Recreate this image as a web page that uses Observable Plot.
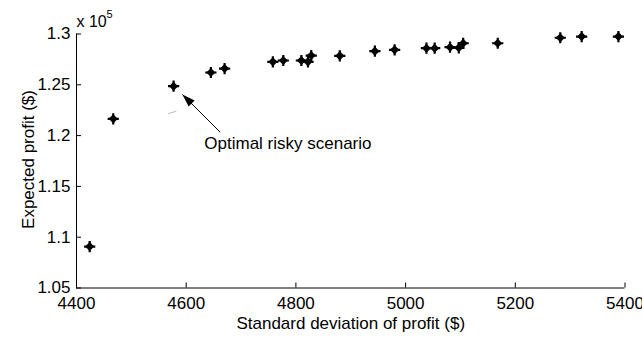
<!DOCTYPE html>
<html><head><meta charset="utf-8">
<script src="https://cdn.jsdelivr.net/npm/d3@7"></script>
<script src="https://cdn.jsdelivr.net/npm/@observablehq/plot@0.6"></script>
<style>body{margin:0;background:#fff}</style>
</head><body><div id="chart"></div>
<script>
// Scenario data
const stdDev = [4424, 4467, 4577, 4645, 4670, 4758, 4777, 4810, 4822, 4828, 4880, 4944, 4980, 5038, 5053, 5081, 5097, 5105, 5168, 5282, 5321, 5388];
const profit = [109080, 121650, 124860, 126210, 126600, 127260, 127390, 127390, 127260, 127880, 127850, 128310, 128440, 128600, 128600, 128700, 128640, 129090, 129090, 129630, 129750, 129750];

const xTicks = [4400, 4600, 4800, 5000, 5200, 5400];
const yTicks = [105000, 110000, 115000, 120000, 125000, 130000];
const yTickLabels = ["1.05", "1.1", "1.15", "1.2", "1.25", "1.3"];

const xLabel = "Standard deviation of profit ($)";
const yLabel = "Expected profit ($)";
const exponentBase = "x 10";
const exponent = "5";

// annotation
const noteText = "Optimal risky scenario";
const noteTextAt = [4633, 119190];
const arrowFrom = [4662, 120330];
const arrowTo = [4593, 124050];
const stray = [[4567, 122150], [4582, 122400]];

const points = stdDev.map((x, i) => ({x, y: profit[i]}));

const W = 642, H = 337;
const mT = 33.5, mB = 49.5, mL = 76, mR = 17.5;
const frameW = W - mL - mR, frameH = H - mT - mB;
const font = "'Liberation Sans', Arial, sans-serif";
const fs = 17;

const arrowHead = {
  draw(ctx, size) {
    ctx.moveTo(0, 0);
    ctx.lineTo(-4.2, 13);
    ctx.lineTo(4.2, 13);
    ctx.closePath();
  }
};

const chart = Plot.plot({
  width: W, height: H,
  marginTop: mT, marginBottom: mB, marginLeft: mL, marginRight: mR,
  style: {fontFamily: font, fontSize: fs + "px", color: "black", background: "white", overflow: "visible"},
  x: {domain: [4400, 5400]},
  y: {domain: [105000, 130000]},
  marks: [
    Plot.ruleY([105000], {stroke: "black", strokeWidth: 1}),
    Plot.ruleX([4400], {stroke: "black", strokeWidth: 1}),
    Plot.tickX(xTicks, {x: d => d, stroke: "black", insetTop: frameH - 5}),
    Plot.tickY(yTicks, {y: d => d, stroke: "black", insetRight: frameW - 5}),
    Plot.axisX(xTicks, {tickSize: 0, tickPadding: 9, fontSize: fs, label: null, tickFormat: d => String(d)}),
    Plot.axisY(yTicks, {tickSize: 0, tickPadding: 6, fontSize: fs, label: null, tickFormat: d => yTickLabels[yTicks.indexOf(d)]}),
    Plot.text([xLabel], {frameAnchor: "bottom", lineAnchor: "top", dy: 29, fontSize: fs, fill: "black"}),
    Plot.text([yLabel], {frameAnchor: "left", textAnchor: "middle", lineAnchor: "top", rotate: -90, dx: -55, dy: -1.5, fontSize: fs, fill: "black"}),
    Plot.text([exponentBase], {frameAnchor: "top-left", textAnchor: "start", lineAnchor: "top", dy: -18.5, fontSize: 16, fill: "black"}),
    Plot.text([exponent], {frameAnchor: "top-left", textAnchor: "start", lineAnchor: "top", dx: 30, dy: -23.5, fontSize: 11, fill: "black"}),
    Plot.link([stray], {x1: d => d[0][0], y1: d => d[0][1], x2: d => d[1][0], y2: d => d[1][1], stroke: "#bbb", strokeWidth: 1}),
    Plot.link([0], {x1: () => arrowFrom[0], y1: () => arrowFrom[1], x2: () => arrowTo[0], y2: () => arrowTo[1], stroke: "black", strokeWidth: 1}),
    Plot.dot([0], {x: () => arrowTo[0], y: () => arrowTo[1], symbol: arrowHead, r: 4, fill: "black", stroke: "none", rotate: -45.4}),
    Plot.text([noteText], {x: () => noteTextAt[0], y: () => noteTextAt[1], textAnchor: "start", lineAnchor: "middle", fontSize: fs, fill: "black"}),
    Plot.dot(points, {x: "x", y: "y", symbol: "diamond2", r: 4.1, fill: "black", stroke: "none"}),
    Plot.dot(points, {x: "x", y: "y", symbol: "plus", r: 3.7, stroke: "black", strokeWidth: 2.2})
  ]
});
document.getElementById("chart").appendChild(chart);
</script>
</body></html>
